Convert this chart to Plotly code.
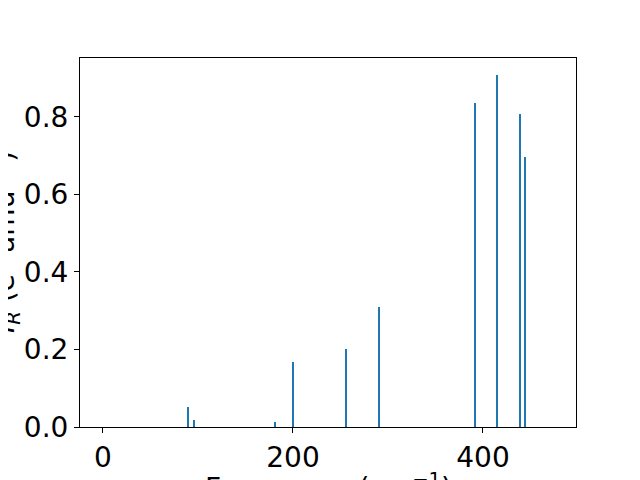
import plotly.graph_objects as go

frequencies = [89.2, 95.8, 181.0, 199.8, 255.8, 290.3, 391.6, 414.4, 439.0, 443.9]
intensities = [0.052, 0.018, 0.013, 0.168, 0.201, 0.310, 0.836, 0.908, 0.808, 0.697]
x_ticks = [0, 200, 400]
y_ticks = [0.0, 0.2, 0.4, 0.6, 0.8]

fig = go.Figure()
fig.add_trace(go.Bar(x=frequencies, y=intensities, width=2.2,
                     marker=dict(color="#1f77b4", line=dict(width=0))))

font = dict(family="DejaVu Sans", size=28, color="black")
# the page body has an 8px margin; margins compensate so the axes land where the reference has them
fig.update_layout(
    width=640, height=480,
    margin=dict(l=72, r=72, t=50, b=61, pad=0),
    plot_bgcolor="white", paper_bgcolor="white",
    showlegend=False, font=font, bargap=0,
)
fig.update_xaxes(range=[-24.2, 497.9], tickvals=x_ticks, ticks="outside", ticklen=5,
                 tickcolor="black", tickwidth=1, showline=True, linecolor="black",
                 linewidth=1, mirror=True, showgrid=False, zeroline=False,
                 tickfont=font)
fig.update_yaxes(range=[0, 0.952], tickvals=y_ticks, tickformat=".1f", ticks="outside",
                 ticklen=5, tickcolor="black", tickwidth=1, showline=True,
                 linecolor="black", linewidth=1, mirror=True, showgrid=False,
                 zeroline=False, tickfont=font)

fig.add_annotation(text="Frequency (cm<sup>\u22121</sup>)", xref="paper", yref="paper",
                   x=0.5, y=-0.107, xanchor="center", yanchor="top",
                   showarrow=False, font=font)
fig.add_annotation(text="<i>I</i><sub><i>R</i></sub> (e<sup>2</sup> amu<sup>\u22121</sup>)",
                   xref="paper", yref="paper", x=-0.152, y=0.5, xanchor="center",
                   yanchor="middle", textangle=-90, showarrow=False, font=font)

fig.write_html("out.html")
